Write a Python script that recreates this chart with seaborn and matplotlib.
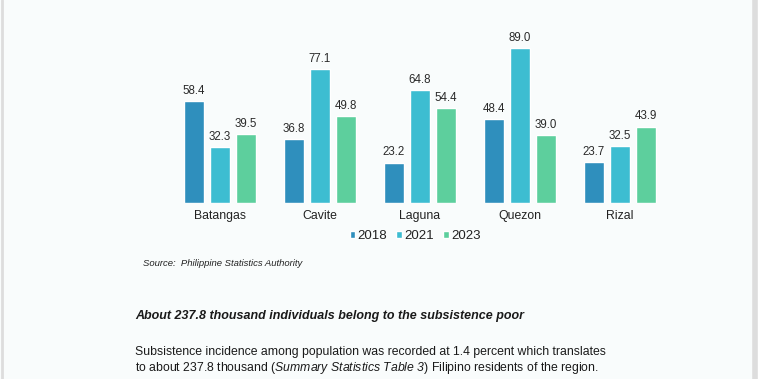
import matplotlib
matplotlib.use("Agg")
import matplotlib.pyplot as plt
import seaborn as sns
import pandas as pd
from matplotlib.patches import Patch

# Datos (incidencia de pobreza por provincia)
provinces = ["Batangas", "Cavite", "Laguna", "Quezon", "Rizal"]
years = ["2018", "2021", "2023"]
vals_2018 = [58.4, 36.8, 23.2, 48.4, 23.7]
vals_2021 = [32.3, 77.1, 64.8, 89.0, 32.5]
vals_2023 = [39.5, 49.8, 54.4, 39.0, 43.9]
colors = ["#2f8fbd", "#3dbdd1", "#5dcf9d"]

sns.set_theme(style="white")
plt.rcParams["font.family"] = ["Liberation Sans", "DejaVu Sans"]
plt.rcParams["mathtext.fontset"] = "custom"
plt.rcParams["mathtext.it"] = "Liberation Sans:italic"
plt.rcParams["mathtext.rm"] = "Liberation Sans:italic"

df = pd.DataFrame({
    "Provincia": provinces * 3,
    "Año": [y for y in years for _ in provinces],
    "Valor": vals_2018 + vals_2021 + vals_2023,
})

bg = "#f9fcfc"
fig = plt.figure(figsize=(7.58, 3.79), dpi=100, facecolor=bg)
ax = fig.add_axes([170 / 758, 176 / 379, 500 / 758, 174 / 379])
ax.set_facecolor(bg)

sns.barplot(data=df, x="Provincia", y="Valor", hue="Año", palette=colors,
            width=0.78, gap=0.22, ax=ax, legend=False, saturation=1)

for cont in ax.containers:
    ax.bar_label(cont, fmt="%.1f", padding=3, fontsize=8.3, color="#2a2a2a")

ax.set_ylim(0, 100)
ax.set_xlim(-0.5, 4.5)
ax.set_xlabel("")
ax.set_ylabel("")
ax.set_yticks([])
ax.tick_params(axis="x", length=0, pad=5, labelsize=8.8, labelcolor="#222222")
for s in ax.spines.values():
    s.set_visible(False)

handles = [Patch(facecolor=c, label=y) for c, y in zip(colors, years)]
ax.legend(handles=handles, loc="center", bbox_to_anchor=(0.49, -0.19), ncol=3,
          frameon=False, fontsize=9.5, handlelength=0.45, handleheight=0.45,
          handletextpad=0.15, columnspacing=0.7, labelcolor="#222222")

# Texto del documento alrededor del gráfico
fig.text(143 / 758, 1 - 264 / 379, "Source:  Philippine Statistics Authority",
         fontsize=6.8, style="italic", va="center", color="#222222")
fig.text(135 / 758, 1 - 316 / 379,
         "About 237.8 thousand individuals belong to the subsistence poor",
         fontsize=9, style="italic", weight="bold", va="center", color="#1a1a1a")
fig.text(135 / 758, 1 - 352 / 379,
         "Subsistence incidence among population was recorded at 1.4 percent which translates",
         fontsize=8.8, va="center", color="#1a1a1a")
fig.text(135 / 758, 1 - 368 / 379,
         "to about 237.8 thousand ($\\mathit{Summary\\ Statistics\\ Table\\ 3}$) Filipino residents of the region.",
         fontsize=8.8, va="center", color="#1a1a1a")

# Bordes de página
fig.add_artist(plt.Line2D([2 / 758, 2 / 758], [0, 1], color="#dddddd", lw=2))
fig.add_artist(plt.Line2D([755 / 758, 755 / 758], [0, 1], color="#dddddd", lw=4))

fig.savefig("out.png", dpi=100, facecolor=bg)
